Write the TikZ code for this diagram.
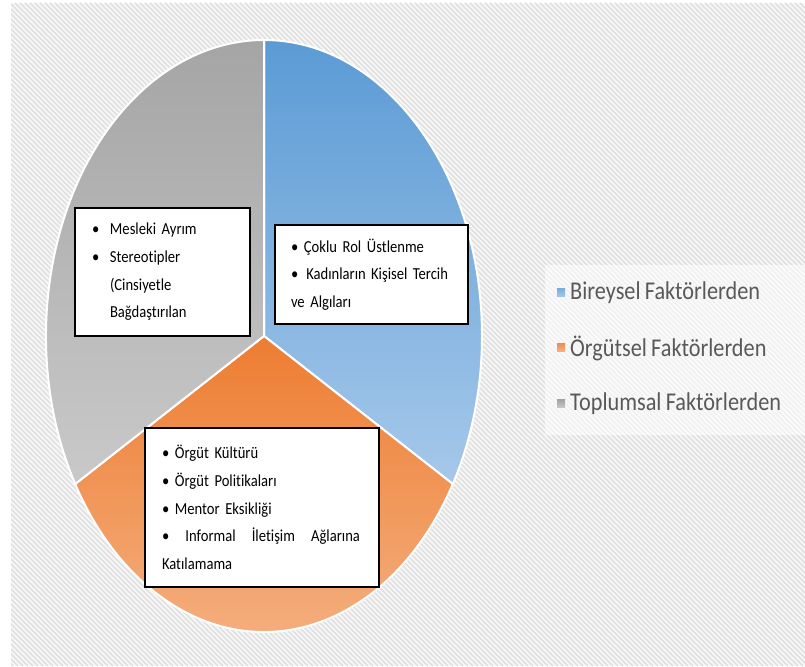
\documentclass[tikz,border=0pt]{standalone}
\usepackage{fontspec}
\setmainfont{Carlito}[FakeStretch=0.87,Ligatures=NoCommon,WordSpace=0.85]
\definecolor{maviust}{HTML}{5B9BD5}
\definecolor{mavialt}{HTML}{A6C8EA}
\definecolor{turuncuust}{HTML}{ED7D31}
\definecolor{turuncualt}{HTML}{F5B487}
\definecolor{griust}{HTML}{A5A5A5}
\definecolor{grialt}{HTML}{C9C9C9}
\definecolor{zemin}{HTML}{F8F8F8}
\definecolor{zeminciz}{HTML}{E0E0E0}
\definecolor{yazigri}{HTML}{595959}
\newcommand\blt{\makebox[18pt][l]{•}}
\newcommand\bltx{\hspace*{18pt}}
\begin{document}
\begin{tikzpicture}[x=1pt,y=1pt,
  kutu/.style={draw=black,line width=1.1pt,fill=white,align=left,inner xsep=17pt,inner ysep=0pt,
    font=\fontsize{16.8}{27.7}\selectfont},
  dilim/.style={draw=white,line width=2pt,line join=round},
  isaret/.style={minimum size=8pt,inner sep=0pt},
  etiket/.style={anchor=west,inner sep=0pt,text=yazigri,font=\fontsize{25.6}{30}\selectfont}]
\useasboundingbox (0,0) rectangle (805,666);
\fill[white] (0,0) rectangle (805,666);
\fill[zemin] (11,0) rectangle (805,663);
\begin{scope}
\clip (11,0) rectangle (805,663);
\foreach \k in {-660,-655,...,805}
  \draw[zeminciz,line width=1.7pt] (\k,663) -- ++(663,-663);
\end{scope}
\path[dilim,top color=maviust,bottom color=mavialt] (264,330) -- +(90:218 and 296)
  arc[start angle=90,end angle=-30,x radius=218,y radius=296] -- cycle;
\path[dilim,top color=turuncuust,bottom color=turuncualt] (264,330) -- +(-30:218 and 296)
  arc[start angle=-30,end angle=-150,x radius=218,y radius=296] -- cycle;
\path[dilim,top color=griust,bottom color=grialt] (264,330) -- +(210:218 and 296)
  arc[start angle=210,end angle=90,x radius=218,y radius=296] -- cycle;
\node[kutu,text width=141pt,minimum height=128pt] (kt) at (162.5,394)
  {\blt Mesleki Ayrım\\ \blt Stereotipler\\ \bltx(Cinsiyetle\\ \bltx Bağdaştırılan};
\node[kutu,inner xsep=16pt,text width=161pt,minimum height=99pt] (kb) at (371.5,391.5)
  {• Çoklu Rol Üstlenme\\ \makebox[157pt][l]{•\hspace{8pt}Kadınların\hfill Kişisel\hfill Tercih}\\ ve Algıları};
\node[kutu,text width=200pt,minimum height=159pt] (ko) at (262,158.5)
  {• Örgüt Kültürü\\ • Örgüt Politikaları\\ • Mentor Eksikliği\\
   \makebox[198pt][l]{•\hfill Informal\hfill İletişim\hfill Ağlarına}\\ Katılamama};
\node[fill=white,fill opacity=0.55,minimum width=260pt,minimum height=170pt] (lej) at (675,316) {};
\node[isaret,top color=maviust!80!white,bottom color=mavialt] (lb) at (561,373) {};
\node[isaret,top color=turuncuust!85!white,bottom color=turuncualt] (lo) at (561,318) {};
\node[isaret,top color=griust,bottom color=grialt] (lt) at (561,262) {};
\node[etiket] (lbt) at (570,373) {Bireysel Faktörlerden};
\node[etiket] (lot) at (570,318) {Örgütsel Faktörlerden};
\node[etiket] (ltt) at (570,262) {Toplumsal Faktörlerden};
\end{tikzpicture}
\end{document}
